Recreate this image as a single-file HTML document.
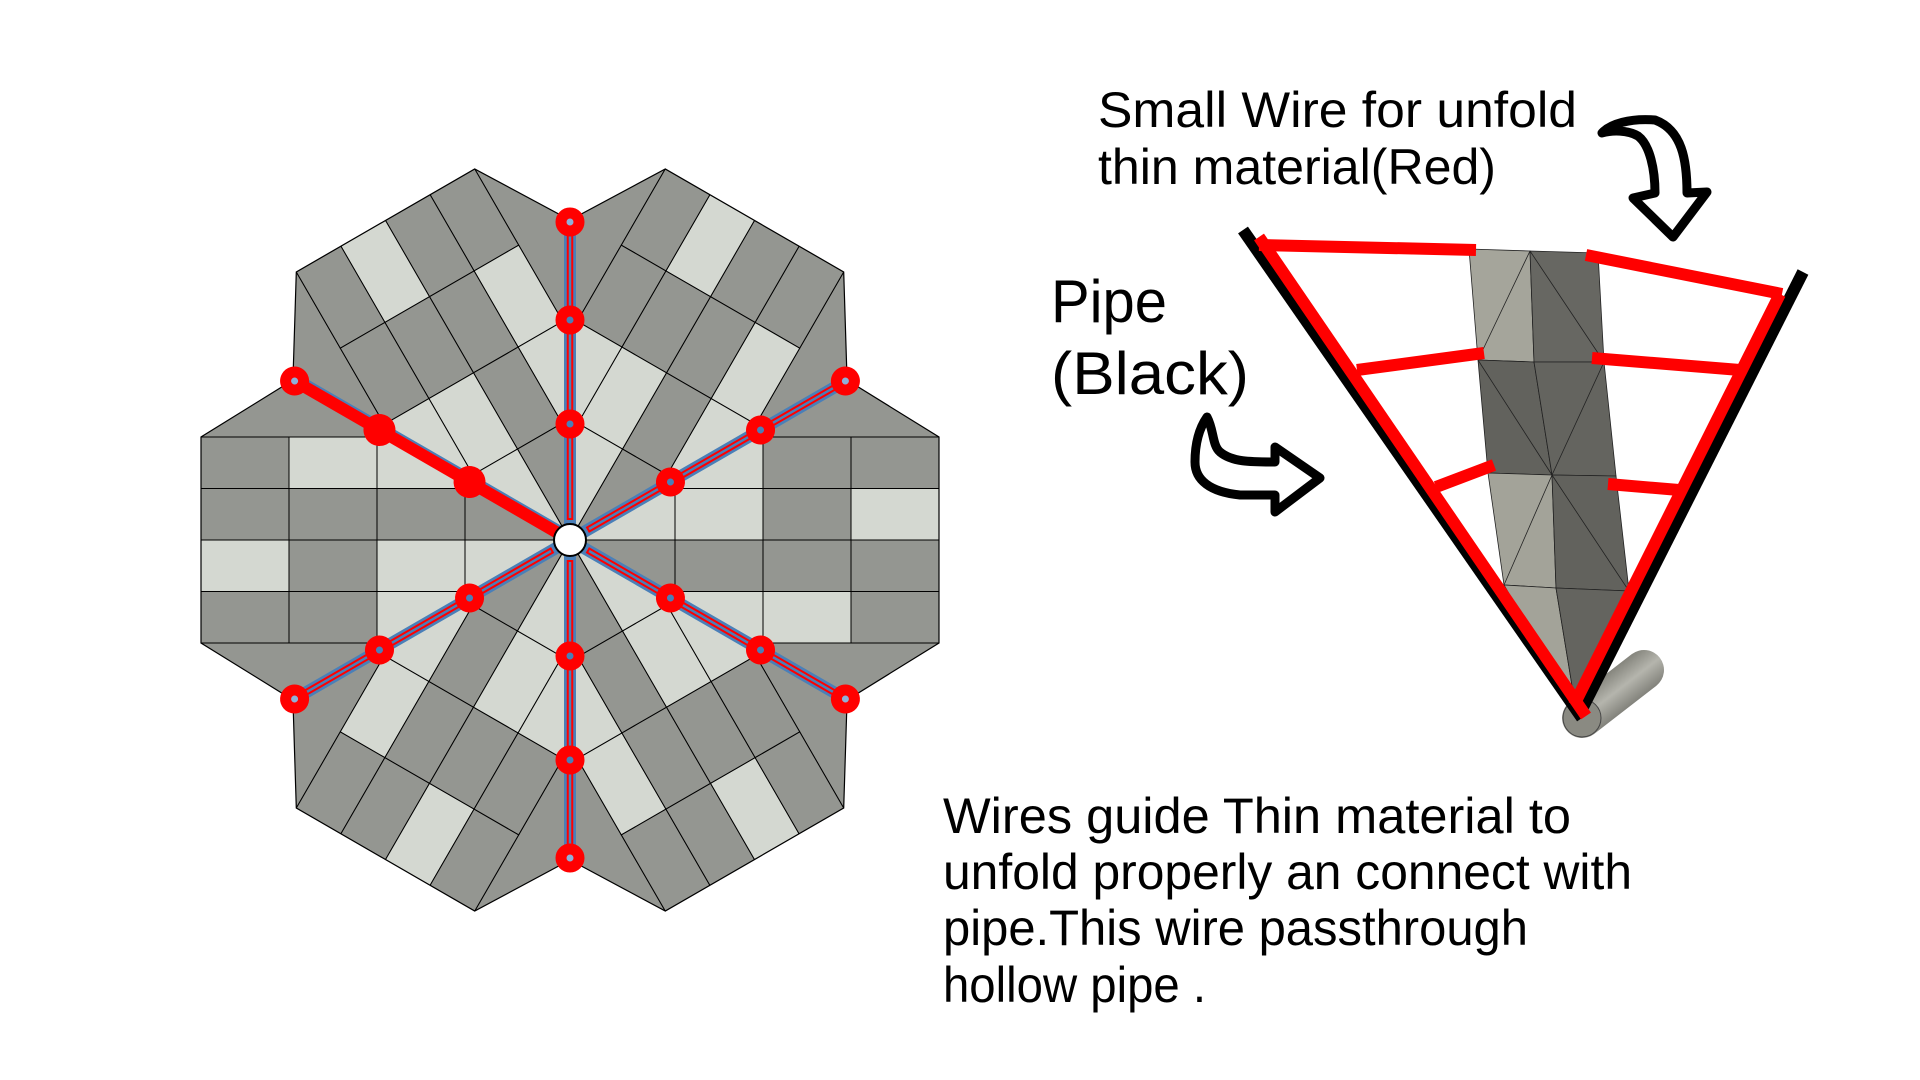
<!DOCTYPE html>
<html><head><meta charset="utf-8"><style>html,body{margin:0;padding:0;background:#fff}svg{display:block}</style></head>
<body>
<svg width="1920" height="1080" viewBox="0 0 1920 1080" xmlns="http://www.w3.org/2000/svg">
<defs>
<clipPath id="sec"><polygon points="0,0 -277,-160 -369,-103 -369,103 -277,160"/></clipPath>
<g id="sector">
 <g clip-path="url(#sec)" stroke="#000" stroke-width="1">
  <rect x="-369" y="-160" width="369" height="57" fill="#949691"/>
  <rect x="-369" y="103" width="369" height="57" fill="#949691"/>
  <rect x="-369" y="-103" width="88" height="51.5" fill="#949691"/>
  <rect x="-281" y="-103" width="88" height="51.5" fill="#d4d8d1"/>
  <rect x="-193" y="-103" width="88" height="51.5" fill="#d4d8d1"/>
  <rect x="-105" y="-103" width="105" height="51.5" fill="#d4d8d1"/>
  <rect x="-369" y="-51.5" width="88" height="51.5" fill="#949691"/>
  <rect x="-281" y="-51.5" width="88" height="51.5" fill="#949691"/>
  <rect x="-193" y="-51.5" width="88" height="51.5" fill="#949691"/>
  <rect x="-105" y="-51.5" width="105" height="51.5" fill="#949691"/>
  <rect x="-369" y="0" width="88" height="51.5" fill="#d4d8d1"/>
  <rect x="-281" y="0" width="88" height="51.5" fill="#949691"/>
  <rect x="-193" y="0" width="88" height="51.5" fill="#d4d8d1"/>
  <rect x="-105" y="0" width="105" height="51.5" fill="#d4d8d1"/>
  <rect x="-369" y="51.5" width="88" height="51.5" fill="#949691"/>
  <rect x="-281" y="51.5" width="88" height="51.5" fill="#949691"/>
  <rect x="-193" y="51.5" width="88" height="51.5" fill="#d4d8d1"/>
  <rect x="-105" y="51.5" width="105" height="51.5" fill="#d4d8d1"/>
 </g>
 <polygon points="0,0 -277,-160 -369,-103 -369,103 -277,160" fill="none" stroke="#000" stroke-width="1.2"/>
</g>
<g id="spoke">
 <line x1="0" y1="-14" x2="0" y2="-318" stroke="#4a7fb8" stroke-width="12"/>
 <line x1="0" y1="-20" x2="0" y2="-318" stroke="#ff0000" stroke-width="6.5"/>
 <line x1="0" y1="-22" x2="0" y2="-318" stroke="#4a7fb8" stroke-width="2.5"/>
 <circle cx="0" cy="-116" r="9" fill="#4a7fb8" stroke="#ff0000" stroke-width="11"/>
 <circle cx="0" cy="-220" r="9" fill="#4a7fb8" stroke="#ff0000" stroke-width="11"/>
 <circle cx="0" cy="-318" r="9" fill="#8fb0d8" stroke="#ff0000" stroke-width="11"/>
</g>
</defs>

<g transform="translate(570,540)">
 <use href="#sector"/>
 <use href="#sector" transform="rotate(60)"/>
 <use href="#sector" transform="rotate(120)"/>
 <use href="#sector" transform="rotate(180)"/>
 <use href="#sector" transform="rotate(240)"/>
 <use href="#sector" transform="rotate(300)"/>
 <use href="#spoke"/>
 <use href="#spoke" transform="rotate(60)"/>
 <use href="#spoke" transform="rotate(120)"/>
 <use href="#spoke" transform="rotate(180)"/>
 <use href="#spoke" transform="rotate(240)"/>
 <g transform="rotate(300)">
  <line x1="4" y1="-14" x2="4" y2="-318" stroke="#4a7fb8" stroke-width="8"/>
  <line x1="0" y1="-14" x2="0" y2="-318" stroke="#ff0000" stroke-width="12"/>
  <circle cx="0" cy="-116" r="16" fill="#ff0000"/>
  <circle cx="0" cy="-220" r="16" fill="#ff0000"/>
  <circle cx="0" cy="-318" r="9" fill="#8fb0d8" stroke="#ff0000" stroke-width="11"/>
 </g>
 <circle cx="0" cy="0" r="16" fill="#fff" stroke="#000" stroke-width="2"/>
</g>

<g stroke="#222" stroke-width="0.8">
 <polygon points="1469,249 1530,251 1534,362 1478,360" fill="#a5a59b"/>
 <polygon points="1530,251 1598,253 1604,362 1534,362" fill="#676762"/>
 <polygon points="1478,360 1534,362 1552,475 1488,473" fill="#62625d"/>
 <polygon points="1534,362 1604,362 1616,476 1552,475" fill="#64645f"/>
 <polygon points="1488,473 1552,475 1556,588 1504,585" fill="#a3a399"/>
 <polygon points="1552,475 1616,476 1629,591 1556,588" fill="#62625d"/>
 <polygon points="1504,585 1556,588 1576,710" fill="#a3a399"/>
 <polygon points="1556,588 1629,591 1576,710" fill="#64645f"/>
 <line x1="1530" y1="251" x2="1478" y2="360"/>
 <line x1="1530" y1="251" x2="1604" y2="362"/>
 <line x1="1478" y1="360" x2="1552" y2="475"/>
 <line x1="1604" y1="362" x2="1552" y2="475"/>
 <line x1="1552" y1="475" x2="1504" y2="585"/>
 <line x1="1552" y1="475" x2="1629" y2="591"/>
</g>
<defs><linearGradient id="cyl" x1="0" y1="0" x2="1" y2="1"><stop offset="0" stop-color="#5a5a52"/><stop offset="0.5" stop-color="#b5b5ad"/><stop offset="1" stop-color="#55554f"/></linearGradient></defs>
<line x1="1582" y1="718" x2="1644" y2="670" stroke="url(#cyl)" stroke-width="40" stroke-linecap="round"/>
<circle cx="1582" cy="718" r="19" fill="#8a8a82" stroke="#444" stroke-width="1"/>
<line x1="1243" y1="230" x2="1582" y2="718" stroke="#000" stroke-width="12"/>
<line x1="1803" y1="272" x2="1580" y2="713" stroke="#000" stroke-width="12"/>
<g stroke="#ff0000" stroke-width="12" stroke-linecap="butt">
 <line x1="1259" y1="237" x2="1586" y2="716"/>
 <line x1="1780" y1="294" x2="1574" y2="705"/>
 <line x1="1259" y1="245" x2="1476" y2="250"/>
 <line x1="1586" y1="255" x2="1782" y2="294"/>
 <line x1="1357" y1="370" x2="1484" y2="353"/>
 <line x1="1592" y1="358" x2="1740" y2="370"/>
 <line x1="1436" y1="487" x2="1494" y2="465"/>
 <line x1="1608" y1="484" x2="1679" y2="490"/>
</g>
<path d="M1207,417 C1214,430 1212,445 1220,452 C1232,462 1250,462 1275,462 L1275,447 L1320,478 L1275,512 L1275,495 L1240,495 C1210,492 1195,480 1195,462 C1195,445 1198,430 1207,417 Z" fill="#fff" stroke="#000" stroke-width="9" stroke-linejoin="round"/>
<path d="M1602,133 C1610,124 1630,118 1655,120 C1682,130 1687,160 1687,193 L1707,192 L1673,237 L1633,198 L1655,193 C1655,170 1650,145 1638,136 C1628,130 1612,130 1602,133 Z" fill="#fff" stroke="#000" stroke-width="9" stroke-linejoin="round"/>
<g font-family="'Liberation Sans', sans-serif" fill="#000">
 <text x="1098" y="127" font-size="50" textLength="479" lengthAdjust="spacingAndGlyphs">Small Wire for unfold</text>
 <text x="1098" y="184" font-size="50" textLength="398" lengthAdjust="spacingAndGlyphs">thin material(Red)</text>
 <text x="1051" y="322" font-size="60" textLength="116" lengthAdjust="spacingAndGlyphs">Pipe</text>
 <text x="1051" y="394" font-size="60" textLength="198" lengthAdjust="spacingAndGlyphs">(Black)</text>
 <text x="943" y="833" font-size="50" textLength="628" lengthAdjust="spacingAndGlyphs">Wires guide Thin material to</text>
 <text x="943" y="889" font-size="50" textLength="689" lengthAdjust="spacingAndGlyphs">unfold properly an connect with</text>
 <text x="943" y="945" font-size="50" textLength="585" lengthAdjust="spacingAndGlyphs">pipe.This wire passthrough</text>
 <text x="943" y="1002" font-size="50" textLength="263" lengthAdjust="spacingAndGlyphs">hollow pipe .</text>
</g>
</svg>
</body></html>
